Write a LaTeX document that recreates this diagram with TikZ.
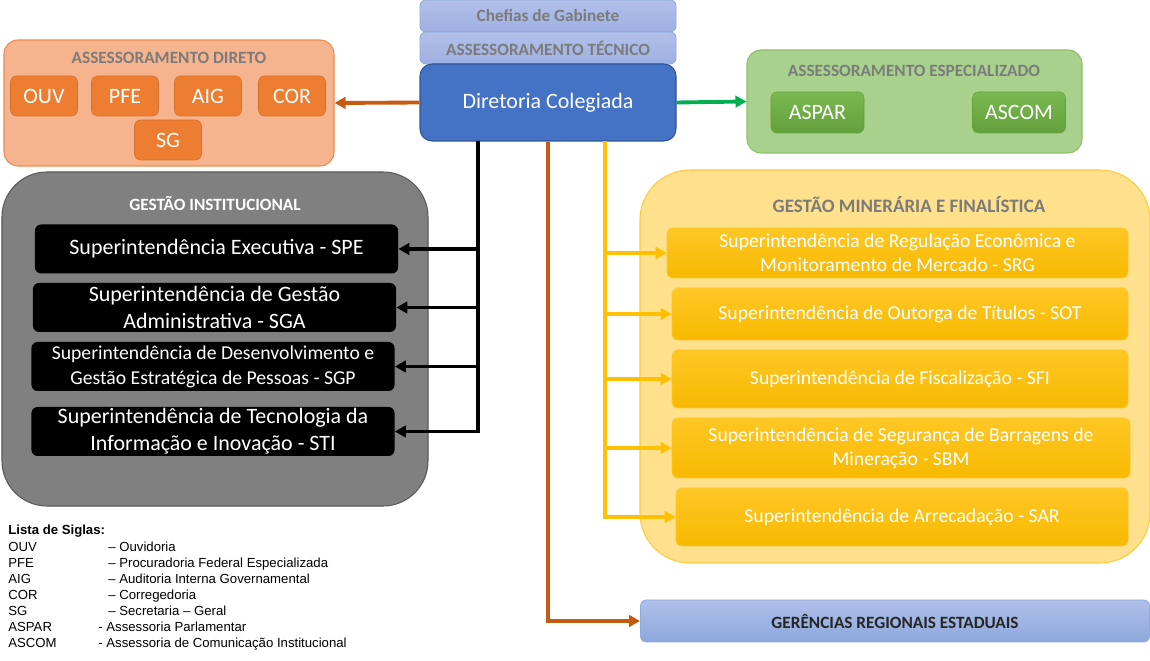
\documentclass[tikz,border=0pt]{standalone}
\usepackage{fontspec}
\setmainfont{Carlito}
\newfontfamily\siglafont{Liberation Sans}
\usetikzlibrary{arrows.meta}
\definecolor{dirFill}{HTML}{4472C4}
\definecolor{dirBorder}{HTML}{2F5597}
\definecolor{capTop}{HTML}{B2C0EA}
\definecolor{capBot}{HTML}{9EB0E2}
\definecolor{capBorder}{HTML}{8FAADC}
\definecolor{titleGray}{HTML}{7B7B7B}
\definecolor{adFill}{HTML}{F6B48E}
\definecolor{adBorder}{HTML}{F08A4B}
\definecolor{adBox}{HTML}{ED7D31}
\definecolor{aeFill}{HTML}{A9D18E}
\definecolor{aeBorder}{HTML}{8CC168}
\definecolor{aeTop}{HTML}{7AB851}
\definecolor{aeBot}{HTML}{63A03B}
\definecolor{giFill}{HTML}{808080}
\definecolor{giBorder}{HTML}{5A5A5A}
\definecolor{gmFill}{HTML}{FFE08C}
\definecolor{gmBorder}{HTML}{FFCB3A}
\definecolor{gmTop}{HTML}{FFC726}
\definecolor{gmBot}{HTML}{F7B900}
\definecolor{grTop}{HTML}{AEBFE9}
\definecolor{grBot}{HTML}{8EA8DC}
\definecolor{lnOrange}{HTML}{C55A11}
\definecolor{lnGreen}{HTML}{00B050}
\definecolor{lnYellow}{HTML}{FFC000}

\begin{document}
\begin{tikzpicture}[
    x=0.2mm, y=-0.2mm,
    >={Triangle[length=2.2mm,width=2.3mm]},
    every node/.style={font=\fontsize{12.5}{15.4}\selectfont, inner sep=0pt, align=center},
    panel/.style={rectangle, line width=0.6pt},
    capbox/.style={rectangle, rounded corners=1.2mm, draw=capBorder, line width=0.5pt,
                   top color=capTop, bottom color=capBot,
                   minimum width=51.2mm, minimum height=6.4mm,
                   font=\fontsize{9.8}{11}\selectfont\bfseries, text=titleGray},
    ptitle/.style={font=\fontsize{9.8}{11}\selectfont\bfseries, text=titleGray},
    adbox/.style={rectangle, rounded corners=1.2mm, fill=adBox, draw=adBox!90!black,
                  line width=0.3pt, minimum width=13.4mm, minimum height=8mm, text=white},
    aebox/.style={rectangle, rounded corners=1.2mm, top color=aeTop, bottom color=aeBot,
                  draw=aeBot, line width=0.3pt, minimum width=18.6mm, minimum height=8.2mm,
                  text=white},
    gibox/.style={rectangle, rounded corners=1.2mm, fill=black, minimum width=72.6mm,
                  minimum height=9.8mm, text=white},
    gmbox/.style={rectangle, rounded corners=1.2mm, top color=gmTop, bottom color=gmBot,
                  draw=gmTop, line width=0.3pt, text=white,
                  font=\fontsize{11.2}{13.7}\selectfont},
    arr/.style={->, line width=2.2pt},
    sigla/.style={anchor=base west, font=\siglafont\fontsize{7.5}{9.1}\selectfont},
]

\useasboundingbox (0,0) rectangle (1150,661);

% --- Topo: chefias, assessoramento tecnico, diretoria ---
\node[capbox] (chefias) at (548,16) {Chefias de Gabinete};
\node[capbox] (tecnico) at (548,48) {ASSESSORAMENTO TÉCNICO};
\node[rectangle, rounded corners=2.4mm, fill=dirFill, draw=dirBorder, line width=0.6pt,
      minimum width=51.2mm, minimum height=15.4mm, text=white]
  (diretoria) at (548,102.5) {Diretoria Colegiada};

% --- Assessoramento direto ---
\node[panel, rounded corners=2.8mm, fill=adFill, draw=adBorder,
      minimum width=66mm, minimum height=25.2mm] (direto) at (169,103) {};
\node[ptitle] (diretoT) at (169,58) {ASSESSORAMENTO DIRETO};
\node[adbox] (ouv) at (44,96)  {OUV};
\node[adbox] (pfe) at (125,96) {PFE};
\node[adbox] (aig) at (208,96) {AIG};
\node[adbox] (cor) at (292,96) {COR};
\node[adbox] (sg)  at (168,140) {SG};

% --- Assessoramento especializado ---
\node[panel, rounded corners=2.8mm, fill=aeFill, draw=aeBorder,
      minimum width=67mm, minimum height=20.6mm] (espec) at (914.5,101.5) {};
\node[ptitle] (especT) at (914,71) {ASSESSORAMENTO ESPECIALIZADO};
\node[aebox] (aspar) at (817.5,112.5) {ASPAR};
\node[aebox] (ascom) at (1019,112.5) {ASCOM};

% --- Gestao institucional ---
\node[panel, rounded corners=9mm, fill=giFill, draw=giBorder,
      minimum width=85.2mm, minimum height=66.8mm] (instit) at (215,339) {};
\node[ptitle, text=white] (institT) at (215,204) {GESTÃO INSTITUCIONAL};
\node[gibox] (spe) at (216.5,249)   {Superintendência Executiva - SPE};
\node[gibox] (sga) at (214.5,307.5) {Superintendência de Gestão\\Administrativa - SGA};
\node[gibox, font=\fontsize{11.2}{14.2}\selectfont]
  (sgp) at (213,366.5) {Superintendência de Desenvolvimento e\\Gestão Estratégica de Pessoas - SGP};
\node[gibox] (sti) at (213,431.5) {Superintendência de Tecnologia da\\Informação e Inovação - STI};

% --- Gestao mineraria e finalistica ---
\node[panel, rounded corners=10mm, fill=gmFill, draw=gmBorder,
      minimum width=102mm, minimum height=78.6mm] (miner) at (895,366.5) {};
\node[ptitle, font=\fontsize{10.8}{12}\selectfont\bfseries] (minerT) at (909,205)
  {GESTÃO MINERÁRIA E FINALÍSTICA};
\node[gmbox, minimum width=92.2mm, minimum height=10mm] (srg) at (897.5,253)
  {Superintendência de Regulação Econômica e\\Monitoramento de Mercado - SRG};
\node[gmbox, minimum width=91.2mm, minimum height=10.4mm] (sot) at (900,314)
  {Superintendência de Outorga de Títulos - SOT};
\node[gmbox, minimum width=91.2mm, minimum height=11.6mm] (sfi) at (900,379)
  {Superintendência de Fiscalização - SFI};
\node[gmbox, minimum width=91.6mm, minimum height=12mm] (sbm) at (901,448)
  {Superintendência de Segurança de Barragens de\\Mineração - SBM};
\node[gmbox, minimum width=90.4mm, minimum height=11.6mm] (sar) at (902,517)
  {Superintendência de Arrecadação - SAR};

% --- Gerencias regionais ---
\node[rectangle, rounded corners=1.2mm, top color=grTop, bottom color=grBot,
      draw=capBorder, line width=0.5pt, minimum width=101.8mm, minimum height=8.4mm,
      font=\fontsize{9.8}{11}\selectfont\bfseries, text=black!85]
  (gre) at (895,621) {GERÊNCIAS REGIONAIS ESTADUAIS};

% --- Ligacoes a partir da diretoria ---
\draw[arr, draw=lnOrange] (diretoria.west) -- (direto.east);
\draw[arr, draw=lnGreen]  (diretoria.east) -- (espec.west);

\coordinate (blkTop) at (478,141);
\draw[arr, draw=black] (blkTop) |- (sti.east);
\foreach \n in {spe,sga,sgp}
  \draw[arr, draw=black] (blkTop |- \n.east) -- (\n.east);

\coordinate (ylwTop) at (605,141);
\draw[arr, draw=lnYellow] (ylwTop) |- (sar.west);
\foreach \n in {srg,sot,sfi,sbm}
  \draw[arr, draw=lnYellow] (ylwTop |- \n.west) -- (\n.west);

\draw[arr, draw=lnOrange] (diretoria.south) |- (gre.west);

% --- Lista de siglas ---
\node[sigla] (siglaT) at (8,535) {\bfseries Lista de Siglas:};
\foreach \sig/\desc/\px [count=\i] in {
    OUV/{– Ouvidoria}/108,
    PFE/{– Procuradoria Federal Especializada}/108,
    AIG/{– Auditoria Interna Governamental}/108,
    COR/{– Corregedoria}/108,
    SG/{– Secretaria – Geral}/108,
    ASPAR/{- Assessoria Parlamentar}/98,
    ASCOM/{- Assessoria de Comunicação Institucional}/98} {
  \node[sigla] (sigA\i) at (8,535+16.1*\i) {\sig};
  \node[sigla] (sigB\i) at (\px,535+16.1*\i) {\desc};
}

\end{tikzpicture}
\end{document}
